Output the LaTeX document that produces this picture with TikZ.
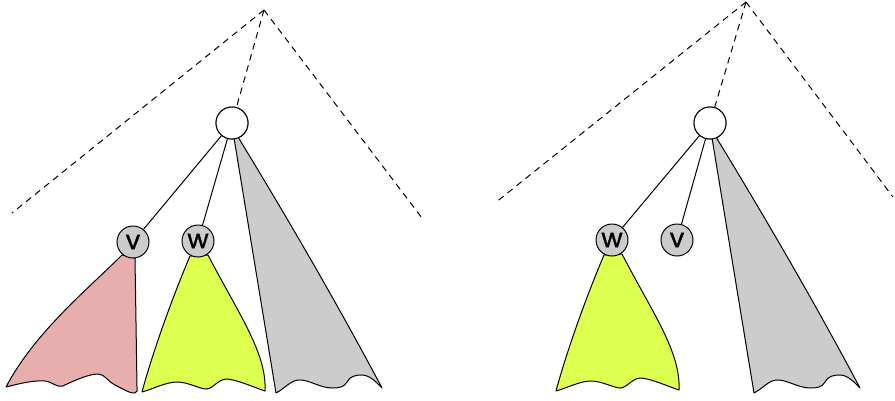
\documentclass[tikz,border=0pt]{standalone}
\usepackage{fontspec}
\newfontfamily\lblfont[FakeBold=1.2]{Poppins}
\definecolor{redfill}{RGB}{232,174,174}
\definecolor{yelfill}{RGB}{220,255,80}
\definecolor{grayfill}{RGB}{204,204,204}
\tikzset{
  rootnode/.style={circle, draw, fill=white, minimum size=32pt, inner sep=0pt, line width=1pt},
  leafnode/.style={circle, draw, fill=grayfill, minimum size=32pt, inner sep=0pt, line width=1pt, font=\lblfont\fontsize{26}{26}\selectfont},
  edge/.style={line width=1pt},
  dashedge/.style={line width=1pt, dash pattern=on 6.5pt off 5pt},
  treeshape/.style={draw, line width=1pt, line join=round},
  pics/redtree/.style={code={
    \path[treeshape, fill=redfill] (-11,13) .. controls (-45,47) and (-98,90) .. (-127,145)
      .. controls (-115,142) and (-100,138) .. (-88,139)
      .. controls (-80,140) and (-76,146) .. (-70,144)
      .. controls (-62,140) and (-45,132) .. (-35,132)
      .. controls (-28,132) and (-25,140) .. (-18,143)
      .. controls (-10,147) and (-2,152) .. (2,151)
      .. controls (5,150) and (4,148) .. (4,145) -- (2,16) -- cycle;
  }},
  pics/yeltree/.style={code={
    \path[treeshape, fill=yelfill] (-8,15) .. controls (-25,55) and (-45,110) .. (-56,151)
      .. controls (-45,148) and (-32,141) .. (-21,141)
      .. controls (-10,141) and (2,148) .. (8,148)
      .. controls (15,148) and (20,138) .. (29,138)
      .. controls (40,139) and (55,146) .. (67,150)
      .. controls (69,112) and (40,72) .. (10,14) -- cycle;
  }},
  pics/graytree/.style={code={
    \path[treeshape, fill=grayfill] (2,15) -- (44,270)
      .. controls (52,266) and (58,258) .. (66,257)
      .. controls (76,256) and (88,265) .. (100,265)
      .. controls (108,265) and (112,264) .. (115,259)
      .. controls (118,253) and (124,252) .. (130,252)
      .. controls (138,252) and (145,260) .. (150,265)
      .. controls (106,182) and (56,96) .. (6,14) -- cycle;
  }}
}
\begin{document}
\begin{tikzpicture}[x=1pt, y=-1pt]
\useasboundingbox (0,0) rectangle (895,400);
% ---------- left diagram ----------
\coordinate (apexL) at (264,10);
\coordinate (lendL) at (12,213);
\coordinate (rendL) at (422,218);
\node[rootnode] (rootL) at (232,123) {};
\coordinate (vpos) at (133,242);
\coordinate (wpos) at (198,241);
\pic at (rootL) {graytree};
\pic at (vpos) {redtree};
\pic at (wpos) {yeltree};
\node[leafnode] (vL) at (vpos) {v};
\node[leafnode] (wL) at (wpos) {w};
\draw[edge] (rootL) -- (vL);
\draw[edge] (rootL) -- (wL);
\node[rootnode] at (rootL) {};
\draw[dashedge] (apexL) -- (lendL);
\draw[dashedge] (apexL) -- (rendL);
\draw[dashedge] (apexL) -- (rootL);
% ---------- right diagram ----------
\coordinate (apexR) at (746,2);
\coordinate (lendR) at (495,203);
\coordinate (rendR) at (893,197);
\node[rootnode] (rootR) at (710,123) {};
\coordinate (w2pos) at (612,240);
\coordinate (v2pos) at (677,240);
\pic at (rootR) {graytree};
\pic at (w2pos) {yeltree};
\node[leafnode] (wR) at (w2pos) {w};
\node[leafnode] (vR) at (v2pos) {v};
\draw[edge] (rootR) -- (wR);
\draw[edge] (rootR) -- (vR);
\node[rootnode] at (rootR) {};
\draw[dashedge] (apexR) -- (lendR);
\draw[dashedge] (apexR) -- (rendR);
\draw[dashedge] (apexR) -- (rootR);
\end{tikzpicture}
\end{document}
